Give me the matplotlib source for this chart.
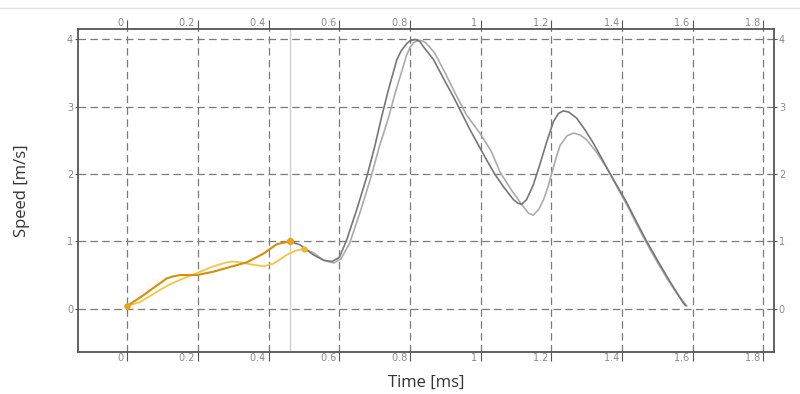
import matplotlib
matplotlib.use("Agg")
import matplotlib.pyplot as plt
import numpy as np
from matplotlib.lines import Line2D
from matplotlib.ticker import FixedLocator, FuncFormatter

# ---- data ----
dark_t = [0, 0.046, 0.08, 0.112, 0.13, 0.15, 0.17, 0.197, 0.244, 0.291, 0.339, 0.386, 0.424, 0.461,
          0.489, 0.527, 0.556, 0.579, 0.60, 0.621, 0.65, 0.678, 0.70, 0.72, 0.739, 0.763,
          0.775, 0.791, 0.80, 0.815, 0.828, 0.84, 0.867, 0.895, 0.923, 0.947, 0.970, 0.995,
          1.017, 1.040, 1.065, 1.093, 1.105, 1.116, 1.130, 1.149, 1.168, 1.187, 1.206, 1.220,
          1.234, 1.250, 1.272, 1.295, 1.319, 1.342, 1.366, 1.390, 1.414, 1.442, 1.470, 1.498,
          1.527, 1.550, 1.574, 1.58]
dark_v = [0.04, 0.20, 0.33, 0.45, 0.48, 0.50, 0.50, 0.50, 0.55, 0.62, 0.69, 0.82, 0.96, 1.00,
          0.95, 0.80, 0.72, 0.70, 0.76, 1.02, 1.48, 1.96, 2.40, 2.85, 3.25, 3.70,
          3.83, 3.94, 3.98, 4.00, 3.97, 3.88, 3.70, 3.42, 3.15, 2.90, 2.66, 2.42,
          2.21, 2.00, 1.81, 1.62, 1.57, 1.55, 1.62, 1.84, 2.15, 2.48, 2.78, 2.90,
          2.94, 2.92, 2.83, 2.66, 2.46, 2.24, 2.01, 1.79, 1.57, 1.28, 1.00, 0.74,
          0.48, 0.28, 0.08, 0.05]
dark_cursor = 0.461

light_t = [0, 0.037, 0.065, 0.093, 0.12, 0.15, 0.197, 0.244, 0.282, 0.300, 0.320, 0.348, 0.386,
           0.414, 0.452, 0.475, 0.50, 0.527, 0.556, 0.585, 0.605, 0.63, 0.66, 0.69, 0.713,
           0.74, 0.758, 0.78, 0.79, 0.80, 0.81, 0.824, 0.835, 0.845, 0.857, 0.87, 0.90, 0.93,
           0.96, 0.999, 1.03, 1.055, 1.085, 1.112, 1.135, 1.149, 1.165, 1.178, 1.190, 1.201,
           1.214, 1.225, 1.245, 1.263, 1.282, 1.300, 1.330, 1.357, 1.385, 1.414, 1.442, 1.470,
           1.498, 1.527, 1.555, 1.583]
light_v = [0.04, 0.10, 0.19, 0.28, 0.36, 0.43, 0.53, 0.63, 0.69, 0.70, 0.69, 0.66, 0.63,
           0.67, 0.80, 0.86, 0.89, 0.83, 0.72, 0.68, 0.74, 0.98, 1.45, 1.96, 2.40,
           2.85, 3.20, 3.58, 3.76, 3.88, 3.95, 3.99, 3.98, 3.95, 3.88, 3.80, 3.50, 3.18,
           2.88, 2.60, 2.34, 2.03, 1.78, 1.58, 1.42, 1.39, 1.48, 1.62, 1.80, 2.01,
           2.25, 2.43, 2.57, 2.61, 2.58, 2.51, 2.31, 2.09, 1.82, 1.54, 1.25, 0.97,
           0.71, 0.45, 0.23, 0.04]
light_cursor = 0.50

x_ticks = [0, 0.2, 0.4, 0.6, 0.8, 1.0, 1.2, 1.4, 1.6, 1.8]
y_ticks = [0, 1, 2, 3, 4]
x_label = "Time [ms]"
y_label = "Speed [m/s]"

# ---- styling ----
DARK_OR = "#d48f0c"
LIGHT_OR = "#f7c445"
DARK_GR = "#777777"
LIGHT_GR = "#ababab"
TICK_C = "#555555"
LABEL_C = "#8a8a8a"

fig = plt.figure(figsize=(8.0, 3.94), dpi=100)
ax = fig.add_axes([0.0975, 0.1066, 0.87, 0.8198])

dt = np.array(dark_t); dv = np.array(dark_v)
lt = np.array(light_t); lv = np.array(light_v)

m1 = dt <= dark_cursor + 1e-9
m2 = dt >= dark_cursor - 1e-9
n1 = lt <= light_cursor + 1e-9
n2 = lt >= light_cursor - 1e-9

ax.axvline(dark_cursor, color="#cfcfcf", lw=1.0, zorder=1)

ax.plot(lt[n2], lv[n2], color=LIGHT_GR, lw=1.2, zorder=3, solid_joinstyle="round")
ax.plot(dt[m2], dv[m2], color=DARK_GR, lw=1.2, zorder=4, solid_joinstyle="round")
ax.plot(lt[n1], lv[n1], color=LIGHT_OR, lw=1.3, zorder=5, solid_joinstyle="round")
ax.plot(dt[m1], dv[m1], color=DARK_OR, lw=1.5, zorder=6, solid_joinstyle="round")

# markers at start and cursor
ax.plot([lt[0]], [lv[0]], "o", color=LIGHT_OR, ms=3.5, zorder=7)
ax.plot([dt[0]], [dv[0]], "o", color="#f0a010", ms=3.5, zorder=7)
ax.plot([lt[n1][-1]], [lv[n1][-1]], "o", color="#f5b52a", ms=3.5, zorder=7)
ax.plot([dt[m1][-1]], [dv[m1][-1]], "o", color="#f0a010", ms=4.2, zorder=7)

ax.set_xlim(-0.139, 1.830)
ax.set_ylim(-0.643, 4.156)

ax.xaxis.set_major_locator(FixedLocator(x_ticks))
ax.yaxis.set_major_locator(FixedLocator(y_ticks))
ax.xaxis.set_major_formatter(FuncFormatter(lambda v, p: f"{v:g} "))
ax.yaxis.set_major_formatter(FuncFormatter(lambda v, p: f"{v:g}"))

ax.grid(True, linestyle=(0, (6, 3.5)), color="#7a7a7a", linewidth=0.9, zorder=0)
ax.set_axisbelow(True)

ax.tick_params(axis="x", which="major", top=True, bottom=True, labeltop=True, labelbottom=True,
               direction="out", length=6.5, width=0.8, pad=-5.8, color=TICK_C,
               labelcolor=LABEL_C, labelsize=7)
ax.tick_params(axis="y", which="major", left=True, right=True, labelleft=True, labelright=True,
               direction="out", length=2.5, width=0.8, pad=1.0, color=TICK_C,
               labelcolor=LABEL_C, labelsize=7)

for tk in ax.xaxis.get_major_ticks():
    tk.label1.set_horizontalalignment("right")
    tk.label2.set_horizontalalignment("right")

for s in ax.spines.values():
    s.set_color("#555555")
    s.set_linewidth(1.3)

ax.set_xlabel(x_label, fontsize=12, color="#333333", family="Open Sans")
ax.set_ylabel(y_label, fontsize=12, color="#333333", family="Open Sans")
ax.xaxis.set_label_coords(0.5, -0.07)
ax.yaxis.set_label_coords(-0.069, 0.5)

fig.add_artist(Line2D([0, 1], [1 - 8 / 394, 1 - 8 / 394], transform=fig.transFigure,
                      color="#e2e2e2", lw=1.0))

fig.savefig("out.png", dpi=100)
